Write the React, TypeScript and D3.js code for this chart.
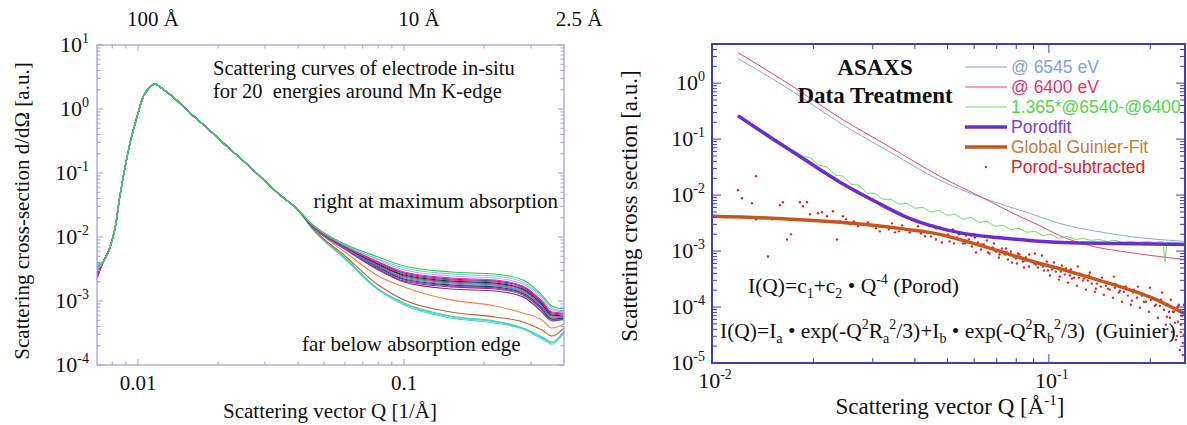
import React from "react";
import * as d3 from "d3";

const SERIF = "'Liberation Serif', 'Times New Roman', serif";
const SANS = "'Liberation Sans', Arial, sans-serif";

// ---------- left panel: in-situ curves for 20 energies ----------
const startQ = 0.00701;
const startI = [0.0034, 0.00365, 0.00305, 0.00284, 0.00294, 0.00264, 0.00274, 0.00246, 0.00316, 0.00255,
  0.00284, 0.00237, 0.00229, 0.00264, 0.00246, 0.00221, 0.00328, 0.00352, 0.00305, 0.00378];

// shared part of all curves (they overlap up to ~0.04 1/A)
const headQ = [0.00739, 0.00785, 0.0082, 0.00856, 0.00894, 0.00933, 0.00991, 0.01044, 0.0111, 0.01159,
  0.0121, 0.01354, 0.01569, 0.01817, 0.02034, 0.02637, 0.03419, 0.04];
const headI = [0.00407, 0.00698, 0.01384, 0.0453, 0.124, 0.294, 0.75, 1.54, 2.21, 2.46,
  2.21, 1.54, 0.866, 0.505, 0.328, 0.124, 0.0453, 0.0264];

const tailQ = [0.045, 0.06, 0.08, 0.1, 0.15, 0.22, 0.28, 0.33, 0.36, 0.399];
const tailI = [
  [0.016, 0.00777, 0.00487, 0.00352, 0.00284, 0.00264, 0.00213, 0.00124, 0.000837, 0.000751],
  [0.016, 0.0075, 0.00453, 0.00328, 0.00264, 0.00246, 0.00198, 0.00116, 0.000779, 0.000698],
  [0.016, 0.0075, 0.00437, 0.00305, 0.00246, 0.00229, 0.00184, 0.00108, 0.000723, 0.000673],
  [0.0154, 0.00723, 0.00407, 0.00284, 0.00229, 0.00213, 0.00172, 0.001, 0.000673, 0.000649],
  [0.0154, 0.00723, 0.00407, 0.00274, 0.00221, 0.00205, 0.00166, 0.000966, 0.000649, 0.000626],
  [0.0154, 0.00698, 0.00392, 0.00264, 0.00213, 0.00198, 0.0016, 0.000932, 0.000626, 0.000604],
  [0.0154, 0.00698, 0.00378, 0.00255, 0.00205, 0.00191, 0.00154, 0.000899, 0.000604, 0.000583],
  [0.0154, 0.00698, 0.00365, 0.00246, 0.00198, 0.00184, 0.00149, 0.000867, 0.000583, 0.000583],
  [0.0149, 0.00673, 0.00352, 0.00237, 0.00191, 0.00178, 0.00143, 0.000837, 0.000562, 0.000562],
  [0.0149, 0.00673, 0.00352, 0.00229, 0.00184, 0.00172, 0.00138, 0.000807, 0.000542, 0.000562],
  [0.0149, 0.00673, 0.0034, 0.00221, 0.00178, 0.00166, 0.00133, 0.000779, 0.000523, 0.000542],
  [0.0149, 0.00649, 0.00328, 0.00213, 0.00172, 0.0016, 0.00129, 0.000751, 0.000523, 0.000542],
  [0.0149, 0.00649, 0.00316, 0.00205, 0.00166, 0.00154, 0.00124, 0.000723, 0.000505, 0.000523],
  [0.0149, 0.00649, 0.00305, 0.00198, 0.00154, 0.00143, 0.00116, 0.000673, 0.000487, 0.000523],
  [0.0149, 0.00583, 0.00246, 0.00166, 0.00104, 0.000837, 0.000649, 0.000505, 0.000378, 0.000437],
  [0.0143, 0.00505, 0.00178, 0.00104, 0.000673, 0.000562, 0.00047, 0.000352, 0.000284, 0.000378],
  [0.0138, 0.0047, 0.00154, 0.000932, 0.000583, 0.000487, 0.000378, 0.000274, 0.000229, 0.00034],
  [0.0138, 0.00453, 0.00149, 0.000899, 0.000562, 0.00047, 0.000365, 0.000264, 0.000221, 0.000328],
  [0.0138, 0.0047, 0.00154, 0.000899, 0.000562, 0.00047, 0.000378, 0.000264, 0.000213, 0.00034],
  [0.0138, 0.00453, 0.00149, 0.000867, 0.000542, 0.000453, 0.000365, 0.000255, 0.000213, 0.000316],
];
const energyColors = ["#33cc44", "#66c8ee", "#d8a0e0", "#cc33cc", "#3344cc", "#dd3333", "#222222", "#9933cc",
  "#339999", "#888888", "#223388", "#7744dd", "#aa3355", "#882299", "#ff7f3f", "#cc5a2a",
  "#33cccc", "#66ddbb", "#88ee99", "#44c8dd"];

const dSpacing = [100, 10, 2.5]; // top axis, Angstrom

// ---------- right panel: ASAXS data treatment ----------
const at6545 = [[0.01194, 2.75], [0.01704, 0.764], [0.02398, 0.195], [0.03371, 0.0589], [0.0474, 0.0185],
  [0.06664, 0.00809], [0.08753, 0.00473], [0.11, 0.00301], [0.1388, 0.00225], [0.1731, 0.00183],
  [0.2124, 0.00161], [0.2532, 0.00149]];
const at6400 = [[0.01194, 3.53], [0.01704, 0.94], [0.02398, 0.24], [0.03371, 0.0725], [0.0474, 0.0218],
  [0.06664, 0.00777], [0.0782, 0.00473], [0.0937, 0.00288], [0.1074, 0.0019], [0.1318, 0.00126],
  [0.1731, 0.000944], [0.2124, 0.0008], [0.2532, 0.000706]];
const difference = [[0.01194, 0.261], [0.01342, 0.1524], [0.01517, 0.0928], [0.0167, 0.0695], [0.01764, 0.0614],
  [0.01862, 0.0499], [0.01967, 0.0459], [0.02077, 0.0344], [0.02194, 0.0317], [0.02317, 0.0228],
  [0.02447, 0.0218], [0.02585, 0.0157], [0.02731, 0.01507], [0.02883, 0.01082], [0.03046, 0.01082],
  [0.03217, 0.00843], [0.03398, 0.00843], [0.03588, 0.00687], [0.0379, 0.00716], [0.04003, 0.00582],
  [0.04228, 0.00607], [0.04466, 0.00493], [0.04716, 0.00536], [0.04982, 0.00436], [0.05261, 0.00454],
  [0.05556, 0.00369], [0.05869, 0.00401], [0.06199, 0.00326], [0.06546, 0.0034], [0.06915, 0.00277],
  [0.07302, 0.00288], [0.07713, 0.00244], [0.08147, 0.00255], [0.08604, 0.00216], [0.09089, 0.00225],
  [0.09598, 0.0019], [0.1014, 0.00199], [0.1071, 0.00168], [0.1131, 0.00183], [0.1195, 0.00161],
  [0.1262, 0.00168], [0.1332, 0.00155], [0.1408, 0.00161], [0.1486, 0.00149], [0.157, 0.00155],
  [0.1658, 0.00143], [0.1751, 0.00149], [0.185, 0.00143], [0.1954, 0.00149], [0.2063, 0.00143],
  [0.218, 0.00149], [0.221, 0.00065], [0.224, 0.00143], [0.2365, 0.00143], [0.2532, 0.00137]];
const porodFit = [[0.01194, 0.261], [0.01517, 0.1008], [0.01913, 0.0406], [0.02398, 0.01704], [0.03004, 0.0081],
  [0.0379, 0.00401], [0.04427, 0.00288], [0.05556, 0.00207], [0.07008, 0.00175], [0.08753, 0.00155],
  [0.11, 0.00143], [0.1617, 0.00137], [0.2532, 0.00131]];
const guinierFit = [[0.01, 0.00418], [0.01517, 0.00385], [0.02398, 0.00326], [0.03004, 0.00288], [0.0379, 0.00244],
  [0.0474, 0.00199], [0.0583, 0.00143], [0.07008, 0.00103], [0.08753, 0.000678], [0.11, 0.000467],
  [0.1388, 0.000309], [0.1731, 0.000205], [0.1984, 0.000153], [0.218, 0.000119], [0.2365, 0.0000932],
  [0.2532, 0.0000758]];
const porodSubtracted = [
  [0.01194, 0.01225], [0.01228, 0.00879], [0.01351, 0.0218], [0.01314, 0.00716], [0.01351, 0.00369],
  [0.01466, 0.0008], [0.01507, 0.00369], [0.01591, 0.00659], [0.01624, 0.00746], [0.0167, 0.00161],
  [0.01716, 0.00199], [0.01824, 0.00746], [0.01862, 0.00632], [0.01913, 0.00746], [0.01953, 0.00454],
  [0.02063, 0.00473], [0.02121, 0.00493], [0.02194, 0.00418], [0.02286, 0.00514], [0.02349, 0.00161],
  [0.02398, 0.0034], [0.02447, 0.00418], [0.02498, 0.00369], [0.02567, 0.00301], [0.02638, 0.0034],
  [0.02712, 0.00277], [0.02806, 0.00301], [0.02903, 0.00326], [0.03004, 0.00277], [0.03067, 0.00255],
  [0.03149, 0.00225], [0.03262, 0.00277], [0.03352, 0.00244], [0.03421, 0.00313], [0.03491, 0.00216],
  [0.03588, 0.00225], [0.03663, 0.00288], [0.03764, 0.00244], [0.03863, 0.00216], [0.03976, 0.00234],
  [0.04086, 0.00277], [0.04171, 0.00207], [0.04285, 0.00183], [0.04374, 0.00216],
  [0.04526, 0.00288], [0.0462, 0.00161], [0.0474, 0.00265], [0.0488, 0.0019], [0.04982, 0.00234],
  [0.05074, 0.00149], [0.0519, 0.00244], [0.05333, 0.00175], [0.05432, 0.00207], [0.05556, 0.00137],
  [0.05671, 0.0019], [0.05788, 0.00161], [0.05908, 0.00121], [0.0603, 0.00175], [0.06155, 0.00143],
  [0.06283, 0.00107], [0.06413, 0.00131], [0.06546, 0.00155], [0.06664, 0.000906], [0.0682, 0.00116],
  [0.06961, 0.000984], [0.07105, 0.000768], [0.07253, 0.00111], [0.07403, 0.000869], [0.07556, 0.000706],
  [0.07713, 0.000984], [0.07873, 0.0008], [0.08035, 0.000599], [0.08176, 0.000869], [0.08372, 0.00065],
  [0.08547, 0.000768], [0.08724, 0.000529], [0.08904, 0.00065], [0.09089, 0.000906], [0.09277, 0.000508],
  [0.09469, 0.000575], [0.09665, 0.000449], [0.09865, 0.00065], [0.1007, 0.000365], [0.1028, 0.000508],
  [0.1049, 0.00043], [0.1071, 0.000309], [0.1093, 0.000551], [0.1115, 0.00038], [0.1139, 0.000273],
  [0.1162, 0.000468], [0.1186, 0.000336], [0.1211, 0.000241], [0.1236, 0.000396], [0.1262, 0.000297],
  [0.1288, 0.000205], [0.1314, 0.000365], [0.1341, 0.000262], [0.1369, 0.000188], [0.1398, 0.000309],
  [0.1427, 0.000232], [0.1456, 0.000166], [0.1486, 0.000273], [0.1517, 0.000205], [0.1549, 0.000147],
  [0.1581, 0.000252], [0.1613, 0.000181], [0.1647, 0.000124], [0.1681, 0.000222], [0.1716, 0.00016],
  [0.1751, 0.00011], [0.1788, 0.000205], [0.1825, 0.000147], [0.1862, 0.000097], [0.1901, 0.000173],
  [0.194, 0.000124], [0.1981, 0.0000823], [0.2021, 0.000147], [0.2063, 0.000105], [0.2106, 0.0000642],
  [0.215, 0.000135], [0.2194, 0.0000894], [0.2225, 0.0000481], [0.2255, 0.00011], [0.2287, 0.0000642],
  [0.2317, 0.000036], [0.2349, 0.0000823], [0.2382, 0.0000259], [0.2414, 0.0000545], [0.2447, 0.0000171],
  [0.2481, 0.0000698], [0.2515, 0.0000318], [0.2498, 0.0000139], [0.2431, 0.00011], [0.2532, 0.0000211],
  [0.0751, 0.000944], [0.0798, 0.000736], [0.0849, 0.000678], [0.0903, 0.000599], [0.096, 0.000529],
  [0.1021, 0.000468], [0.1085, 0.00043], [0.1154, 0.000365], [0.1228, 0.000336], [0.1305, 0.000297],
  [0.1388, 0.000262], [0.1476, 0.000241], [0.157, 0.000222], [0.167, 0.000188], [0.1776, 0.000181],
  [0.1888, 0.00016], [0.2008, 0.000135], [0.2135, 0.000105], [0.2271, 0.0000823], [0.2398, 0.0000894],
  [0.2464, 0.0000481],
  [0.04466, 0.00183], [0.0462, 0.00255], [0.04814, 0.00143], [0.05015, 0.00199], [0.05226, 0.00137],
  [0.05407, 0.00199], [0.05634, 0.00137], [0.05869, 0.0019], [0.06073, 0.000944], [0.06327, 0.00131],
  [0.06592, 0.000944], [0.06868, 0.00137], [0.07134, 0.000869], [0.07455, 0.00111], [0.07767, 0.000624],
  [0.08091, 0.000906], [0.0843, 0.000508], [0.08753, 0.000869], [0.0915, 0.000575], [0.09533, 0.000834],
  [0.09931, 0.000449], [0.1035, 0.000624], [0.1078, 0.00035], [0.1123, 0.000487], [0.117, 0.000322],
  [0.1219, 0.000529], [0.127, 0.000322], [0.1323, 0.000413], [0.1379, 0.000213], [0.1437, 0.000336],
  [0.1497, 0.000213], [0.1559, 0.00035], [0.1624, 0.000196], [0.1692, 0.000232], [0.1763, 0.00013],
  [0.1837, 0.000232], [0.1913, 0.000124], [0.1994, 0.000222], [0.2077, 0.00011], [0.2165, 0.000181],
  [0.224, 0.000067], [0.2301, 0.000135], [0.2365, 0.0000523], [0.2414, 0.000101], [0.2464, 0.000036],
  [0.2515, 0.00011], [0.2498, 0.0000229], [0.2398, 0.0000305], [0.2333, 0.0000823],
];

const legendItems = [
  { label: "@ 6545 eV", color: "#7f9fe8", text: "#7f9fe8", kind: "thin" },
  { label: "@ 6400 eV", color: "#e8457a", text: "#e8336e", kind: "thin" },
  { label: "1.365*@6540-@6400", color: "#66e066", text: "#4cd84c", kind: "thin" },
  { label: "Porodfit", color: "#6a2dd4", text: "#7a40d6", kind: "thick" },
  { label: "Global Guinier-Fit", color: "#c8561c", text: "#c87a3a", kind: "thick" },
  { label: "Porod-subtracted", color: "#e32222", text: "#e32222", kind: "dot" },
];

const isDecade = (t: number) => Math.abs(Math.log10(t) - Math.round(Math.log10(t))) < 1e-6;

function frame(xs: any, ys: any, color: string, sw: number, maj: number, mnr: number, key: string) {
  const [x0, x1] = xs.range();
  const [y0, y1] = ys.range();
  const ticks: any[] = [];
  xs.ticks().forEach((t: number, i: number) => {
    const x = xs(t);
    const L = isDecade(t) ? maj : mnr;
    ticks.push(<line key={key + "xb" + i} x1={x} x2={x} y1={y0} y2={y0 - L} />);
    ticks.push(<line key={key + "xt" + i} x1={x} x2={x} y1={y1} y2={y1 + L} />);
  });
  ys.ticks().forEach((t: number, i: number) => {
    const y = ys(t);
    const L = isDecade(t) ? maj : mnr;
    ticks.push(<line key={key + "yl" + i} x1={x0} x2={x0 + L} y1={y} y2={y} />);
    ticks.push(<line key={key + "yr" + i} x1={x1} x2={x1 - L} y1={y} y2={y} />);
  });
  return (
    <g fill="none" stroke={color}>
      <g strokeWidth={1}>{ticks}</g>
      <rect x={x0} y={y1} width={x1 - x0} height={y0 - y1} strokeWidth={sw} />
    </g>
  );
}

const LeftPanel = () => {
  const xL = d3.scaleLog().domain([0.00701, 0.3995]).range([97, 564]);
  const yL = d3.scaleLog().domain([1e-4, 10]).range([365, 45]);
  const line = d3.line<number[]>().x((d) => xL(d[0])).y((d) => yL(d[1])).curve(d3.curveMonotoneX);

  const curves = tailI.map((tail, k) => [
    [startQ, startI[k]],
    ...headQ.map((q, j) => [q, headI[j]]),
    ...tailQ.map((q, j) => [q, tail[j]]),
  ]);
  const order = d3.range(curves.length).reverse();

  return (
    <g fontFamily={SERIF} fill="#111">
      <defs>
        <clipPath id="clipL">
          <rect x={97} y={45} width={467} height={320} />
        </clipPath>
      </defs>
      <g clipPath="url(#clipL)" fill="none">
        {order.map((k) => (
          <path key={k} d={line(curves[k]) || ""} stroke={energyColors[k]} strokeWidth={1.1} />
        ))}
      </g>
      {frame(xL, yL, "#a0a0e2", 1.3, 6, 3.5, "L")}
      {d3.range(-4, 2).map((e) => (
        <text key={e} x={89} y={yL(Math.pow(10, e)) + 7} textAnchor="end" fontSize={22}>
          10<tspan dy={-9} fontSize={14}>{e}</tspan>
        </text>
      ))}
      {[0.01, 0.1].map((t) => (
        <text key={t} x={xL(t)} y={390} textAnchor="middle" fontSize={21}>{String(t)}</text>
      ))}
      {dSpacing.map((d) => (
        <text key={d} x={xL(1 / d) + 15} y={26} textAnchor="middle" fontSize={21}>{d + " Å"}</text>
      ))}
      <text x={330} y={418} textAnchor="middle" fontSize={21}>Scattering vector Q [1/Å]</text>
      <text transform="translate(29,211) rotate(-90)" textAnchor="middle" fontSize={21}>
        Scattering cross-section d/dΩ [a.u.]
      </text>
      <text x={213} y={75} fontSize={20.5} style={{ whiteSpace: "pre" }}>Scattering curves of electrode in-situ</text>
      <text x={213} y={98} fontSize={20.5} style={{ whiteSpace: "pre" }}>for 20  energies around Mn K-edge</text>
      <text x={558} y={208} textAnchor="end" fontSize={21}>right at maximum absorption</text>
      <text x={302} y={351} fontSize={21}>far below absorption edge</text>
    </g>
  );
};

const RightPanel = () => {
  const xR = d3.scaleLog().domain([0.01, 0.2535]).range([712, 1185]);
  const yR = d3.scaleLog().domain([1e-5, Math.pow(10, 0.7)]).range([363, 44]);
  const line = d3.line<number[]>().x((d) => xR(d[0])).y((d) => yR(d[1])).curve(d3.curveMonotoneX);
  const straight = d3.line<number[]>().x((d) => xR(d[0])).y((d) => yR(d[1]));

  const lx0 = 965, lx1 = 1007, lt = 1011, ly0 = 73, ldy = 20;

  return (
    <g fontFamily={SERIF} fill="#111">
      <defs>
        <clipPath id="clipR">
          <rect x={712} y={44} width={473} height={319} />
        </clipPath>
      </defs>
      <g clipPath="url(#clipR)" fill="none">
        <path d={line(at6545) || ""} stroke="#8aa6ea" strokeWidth={1} />
        <path d={line(at6400) || ""} stroke="#e8457a" strokeWidth={1} />
        <path d={straight(difference) || ""} stroke="#66e066" strokeWidth={1} />
        <g fill="#e32222" stroke="none">
          {porodSubtracted.map((d, i) => (
            <circle key={i} cx={xR(d[0])} cy={yR(d[1])} r={1.2} />
          ))}
        </g>
        <path d={line(guinierFit) || ""} stroke="#c8561c" strokeWidth={3.5} />
        <path d={line(porodFit) || ""} stroke="#6a2dd4" strokeWidth={3.5} />
      </g>
      {frame(xR, yR, "#3c3cd2", 2, 9, 5, "R")}
      {d3.range(-5, 1).map((e) => (
        <text key={e} x={705} y={yR(Math.pow(10, e)) + 7} textAnchor="end" fontSize={22}>
          10<tspan dy={-9} fontSize={14}>{e}</tspan>
        </text>
      ))}
      {[-2, -1].map((e) => (
        <text key={e} x={xR(Math.pow(10, e)) + 3} y={388} textAnchor="middle" fontSize={22}>
          10<tspan dy={-9} fontSize={14}>{e}</tspan>
        </text>
      ))}
      <text x={950} y={414} textAnchor="middle" fontSize={23}>
        Scattering vector Q [Å<tspan dy={-9} fontSize={15}>-1</tspan><tspan dy={9}>]</tspan>
      </text>
      <text transform="translate(637,206) rotate(-90)" textAnchor="middle" fontSize={23}>
        Scattering cross section [a.u.]
      </text>
      <text x={875} y={75} textAnchor="middle" fontSize={23} fontWeight="bold">ASAXS</text>
      <text x={875} y={103} textAnchor="middle" fontSize={23} fontWeight="bold">Data Treatment</text>

      <text x={748} y={293} fontSize={21.5} style={{ whiteSpace: "pre" }}>
        I(Q)=c<tspan dy={5} fontSize={14}>1</tspan>
        <tspan dy={-5}>+c</tspan><tspan dy={5} fontSize={14}>2</tspan>
        <tspan dy={-5}>{" • Q"}</tspan><tspan dy={-9} fontSize={14}>-4</tspan>
        <tspan dy={9}>{" (Porod)"}</tspan>
      </text>
      <text x={720} y={338} fontSize={21.5} style={{ whiteSpace: "pre" }}>
        I(Q)=I<tspan dy={5} fontSize={14}>a</tspan>
        <tspan dy={-5}>{" • exp(-Q"}</tspan><tspan dy={-9} fontSize={14}>2</tspan>
        <tspan dy={9}>R</tspan><tspan dy={5} fontSize={14}>a</tspan>
        <tspan dy={-14} fontSize={14}>2</tspan>
        <tspan dy={9}>/3)+I</tspan><tspan dy={5} fontSize={14}>b</tspan>
        <tspan dy={-5}>{" • exp(-Q"}</tspan><tspan dy={-9} fontSize={14}>2</tspan>
        <tspan dy={9}>R</tspan><tspan dy={5} fontSize={14}>b</tspan>
        <tspan dy={-14} fontSize={14}>2</tspan>
        <tspan dy={9}>{"/3)  (Guinier)"}</tspan>
      </text>

      <g fontFamily={SANS} fontSize={17.5}>
        {legendItems.map((it, i) => {
          const y = ly0 + i * ldy;
          return (
            <g key={it.label}>
              {it.kind === "dot" ? (
                <circle cx={(lx0 + lx1) / 2} cy={y - 6} r={1.2} fill={it.color} />
              ) : (
                <line x1={lx0} x2={lx1} y1={y - 6} y2={y - 6} stroke={it.color}
                  strokeWidth={it.kind === "thick" ? 3.5 : 1} />
              )}
              <text x={lt} y={y} fill={it.text}>{it.label}</text>
            </g>
          );
        })}
      </g>
    </g>
  );
};

export default function App() {
  return (
    <svg width={1187} height={425} viewBox="0 0 1187 425"
      style={{ position: "absolute", left: 0, top: 0, background: "#fff" }}>
      <rect width={1187} height={425} fill="#fff" />
      <LeftPanel />
      <RightPanel />
    </svg>
  );
}
